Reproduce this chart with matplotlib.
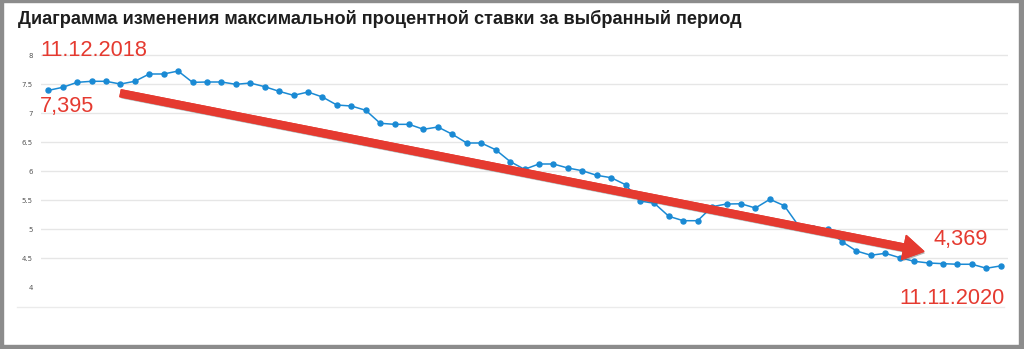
import matplotlib
matplotlib.use('Agg')
import matplotlib.pyplot as plt
import matplotlib.patheffects as pe
from matplotlib.patches import FancyArrowPatch, Rectangle
from matplotlib.lines import Line2D

# данные: максимальная процентная ставка по периодам (11.12.2018 - 11.11.2020)
rates = [7.395, 7.448, 7.534, 7.552, 7.552, 7.505, 7.552, 7.678, 7.678, 7.729,
         7.534, 7.540, 7.540, 7.500, 7.522, 7.459, 7.379, 7.310, 7.367, 7.281,
         7.143, 7.126, 7.052, 6.828, 6.810, 6.810, 6.724, 6.764, 6.638, 6.488,
         6.488, 6.372, 6.169, 6.034, 6.126, 6.126, 6.057, 6.010, 5.931, 5.890,
         5.769, 5.488, 5.448, 5.224, 5.148, 5.148, 5.390, 5.436, 5.440, 5.367,
         5.517, 5.407, 5.057, 5.022, 5.000, 4.786, 4.626, 4.552, 4.586, 4.510,
         4.448, 4.419, 4.407, 4.397, 4.397, 4.328, 4.369]
periods = list(range(len(rates)))

yticks = [4, 4.5, 5, 5.5, 6, 6.5, 7, 7.5, 8]
ytick_labels = ['4', '4.5', '5', '5.5', '6', '6.5', '7', '7.5', '8']

title = 'Диаграмма изменения максимальной процентной ставки за выбранный период'
start_date = '11.12.2018'
end_date = '11.11.2020'
start_rate = '7,395'
end_rate = '4,369'

red = '#e53a30'
blue = '#1a8ad4'

fig = plt.figure(figsize=(10.24, 3.49), dpi=100)
fig.patch.set_facecolor('white')

ax = fig.add_axes([41 / 1024, 1 - 307 / 349, 967 / 1024, 262 / 349])
ax.plot(periods, rates, color=blue, lw=1.1, marker='o', ms=3.6, zorder=3)

ax.set_xlim(-0.5, 66.5)
ax.set_ylim(3.66, 8.178)
ax.set_xticks([])
ax.set_yticks(yticks)
ax.set_yticklabels(ytick_labels)
ax.tick_params(axis='y', length=0, pad=6, labelsize=5, labelcolor='#555555')
ax.grid(axis='y', color='#e6e6e6', lw=1)
ax.get_ygridlines()[0].set_visible(False)
for s in ax.spines.values():
    s.set_visible(False)

# красная стрелка тренда
arrow = FancyArrowPatch((4.83, 7.355), (60.85, 4.61),
                        arrowstyle='simple,head_length=1.45,head_width=1.75,tail_width=0.5',
                        mutation_scale=10, color=red, zorder=4,
                        path_effects=[pe.withSimplePatchShadow(offset=(1.0, -1.3), shadow_rgbFace='#666666', alpha=0.5),
                                      pe.Normal()])
ax.add_patch(arrow)

# подписи
fig.text(18 / 1024, 1 - 24 / 349, title, fontsize=13.1, fontweight='bold',
         family='Liberation Sans', color='#1e1e1e', va='baseline', ha='left')
fig.text(40 / 1024, 1 - 56 / 349, start_date, fontsize=15.7, family='Liberation Sans',
         color=red, va='baseline', ha='left')
fig.text(40 / 1024, 1 - 112 / 349, start_rate, fontsize=15.7, family='Liberation Sans',
         color=red, va='baseline', ha='left')
fig.text(934 / 1024, 1 - 245 / 349, end_rate, fontsize=15.7, family='Liberation Sans',
         color=red, va='baseline', ha='left')
fig.text(1005 / 1024, 1 - 304 / 349, end_date, fontsize=15.7, family='Liberation Sans',
         color=red, va='baseline', ha='right')

# нижняя линия
fig.add_artist(Line2D([17 / 1024, 1004 / 1024], [1 - 307 / 349, 1 - 307 / 349],
                      color='#ebebeb', lw=1))

# серая рамка скриншота
border = '#8c8c8c'
fig.add_artist(Rectangle((0, 0), 3 / 1024, 1, transform=fig.transFigure, color=border))
fig.add_artist(Rectangle((0, 1 - 2 / 349), 1, 2 / 349, transform=fig.transFigure, color=border))
fig.add_artist(Rectangle((1019 / 1024, 0), 4 / 1024, 1, transform=fig.transFigure, color=border))
fig.add_artist(Rectangle((0, 0), 1, 4 / 349, transform=fig.transFigure, color=border))

plt.savefig('out.png', dpi=100)
